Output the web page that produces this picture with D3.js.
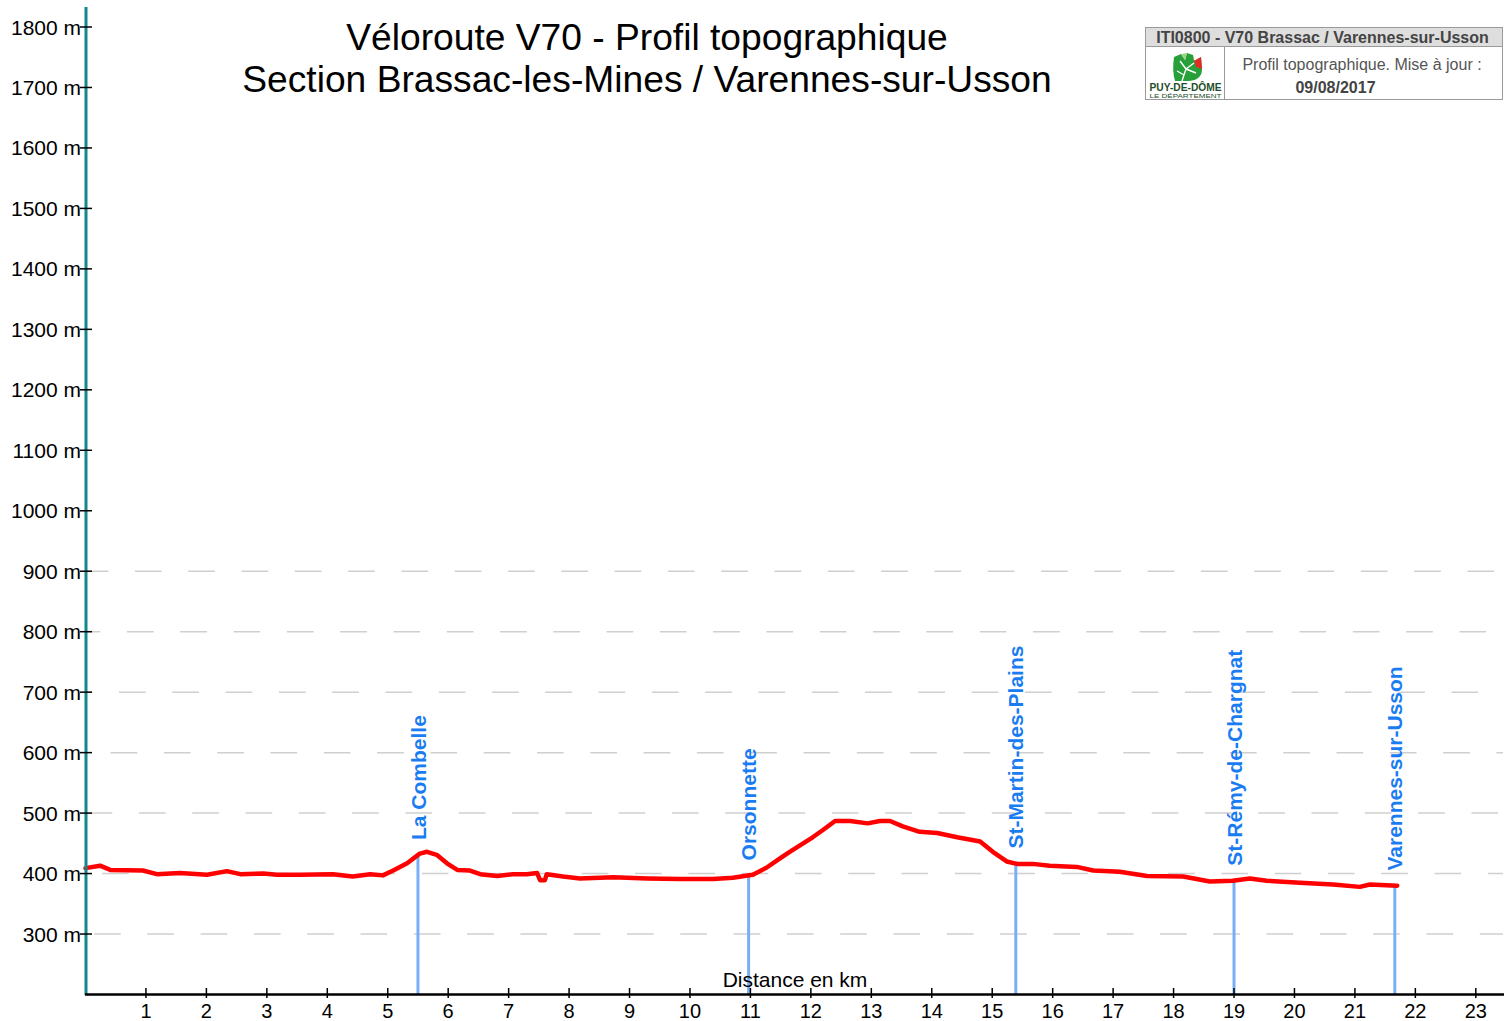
<!DOCTYPE html>
<html>
<head>
<meta charset="utf-8">
<script src="https://cdn.jsdelivr.net/npm/d3@7"></script>
<style>
  body { margin: 0; background: #fff; }
  svg { font-family: Arial, "Liberation Sans", sans-serif; }
</style>
</head>
<body>
<svg id="chart" width="1506" height="1021"></svg>
<script>
// profile: distance (km) / elevation (m)
const distKm = [0, 0.24, 0.41, 0.95, 1.18, 1.56, 2.01, 2.34, 2.56, 2.94, 3.17, 3.55, 4.09, 4.42, 4.71, 4.92,
  5.09, 5.32, 5.53, 5.65, 5.81, 5.98, 6.15, 6.36, 6.53, 6.81, 7.07, 7.30, 7.47, 7.52, 7.60, 7.63, 7.90,
  8.18, 8.73, 9.29, 9.84, 10.38, 10.71, 11.04, 11.27, 11.49, 11.65, 12.03, 12.20, 12.40, 12.65, 12.94,
  13.14, 13.31, 13.52, 13.80, 14.09, 14.42, 14.80, 15.01, 15.24, 15.41, 15.67, 15.95, 16.40, 16.67,
  17.11, 17.56, 18.16, 18.60, 18.98, 19.26, 19.54, 20.09, 20.64, 21.08, 21.25, 21.70];
const elevM = [409, 413, 406, 405, 399, 401, 398, 404, 399, 400, 398, 398, 399, 395, 399, 397,
  405, 417, 433, 436, 431, 417, 406, 405, 399, 396, 399, 399, 401, 389, 389, 399, 395,
  392, 394, 392, 391, 391, 393, 398, 410, 425, 436, 460, 472, 487, 487, 483,
  487, 487, 478, 469, 467, 460, 453, 436, 420, 416, 416, 413, 411, 405,
  403, 396, 395, 387, 388, 392, 388, 385, 382, 378, 382, 380];

// waypoints
const placeNames = ["La Combelle", "Orsonnette", "St-Martin-des-Plains", "St-Rémy-de-Chargnat", "Varennes-sur-Usson"];
const placeKm = [5.5, 10.97, 15.39, 19.0, 21.66];

const yTicks = [300, 400, 500, 600, 700, 800, 900, 1000, 1100, 1200, 1300, 1400, 1500, 1600, 1700, 1800];
const gridTicks = [300, 400, 500, 600, 700, 800, 900];
const xTicks = d3.range(1, 24);

const titleLines = ["Véloroute V70 - Profil topographique", "Section Brassac-les-Mines / Varennes-sur-Usson"];

const svg = d3.select("#chart");
const x = d3.scaleLinear().domain([0, 23.45]).range([85.5, 1503]);
const y = d3.scaleLinear().domain([200, 1800]).range([994.5, 27]);

// dashed grid (only the lower part), each row has its own dash phase
const gridPhase = {300: 40.7, 400: 48.7, 500: 32.3, 600: 4, 700: 12.3, 800: 20.3, 900: 28.3};
const period = 53.33;
svg.append("g").selectAll("line")
  .data(gridTicks)
  .join("line")
  .attr("x1", 86).attr("x2", 1503)
  .attr("y1", d => y(d)).attr("y2", d => y(d))
  .attr("stroke", "#cfcfcf")
  .attr("stroke-width", 1.5)
  .attr("stroke-dasharray", "26.7 26.6")
  .attr("stroke-dashoffset", d => ((86 - gridPhase[d]) % period + period) % period);

// title
svg.append("g").selectAll("text")
  .data(titleLines)
  .join("text")
  .attr("x", 647)
  .attr("y", (d, i) => 50 + i * 42)
  .attr("text-anchor", "middle")
  .attr("font-size", 37.2)
  .attr("fill", "#000")
  .text(d => d);

// waypoint drop lines
const profilePts = distKm.map((d, i) => [d, elevM[i]]);
const elevAt = km => {
  const i = d3.bisector(d => d[0]).left(profilePts, km);
  if (i <= 0) return profilePts[0][1];
  if (i >= profilePts.length) return profilePts[profilePts.length - 1][1];
  const a = profilePts[i - 1], b = profilePts[i];
  return a[1] + (b[1] - a[1]) * (km - a[0]) / (b[0] - a[0]);
};

svg.append("g").selectAll("line")
  .data(placeKm)
  .join("line")
  .attr("x1", d => x(d)).attr("x2", d => x(d))
  .attr("y1", d => y(elevAt(d))).attr("y2", y(200))
  .attr("stroke", "#78b0f7")
  .attr("stroke-width", 3);

// profile
const line = d3.line().x(d => x(d[0])).y(d => y(d[1]));
svg.append("path")
  .datum(profilePts)
  .attr("d", line)
  .attr("fill", "none")
  .attr("stroke", "#ff0000")
  .attr("stroke-width", 4.5)
  .attr("stroke-linejoin", "round")
  .attr("stroke-linecap", "round");

// waypoint labels
svg.append("g").selectAll("text")
  .data(placeNames)
  .join("text")
  .attr("transform", (d, i) => `translate(${x(placeKm[i])},${y(elevAt(placeKm[i])) - 15}) rotate(-90)`)
  .attr("dy", "0.36em")
  .attr("font-size", 21)
  .attr("font-weight", "bold")
  .attr("fill", "#1a7cf2")
  .text(d => d);

// y axis
const yAxis = svg.append("g");
yAxis.append("line")
  .attr("x1", 86).attr("x2", 86)
  .attr("y1", 7).attr("y2", 995)
  .attr("stroke", "#13888c").attr("stroke-width", 3);
yAxis.selectAll("line.tick")
  .data(yTicks)
  .join("line")
  .attr("class", "tick")
  .attr("x1", 80).attr("x2", 92)
  .attr("y1", d => y(d)).attr("y2", d => y(d))
  .attr("stroke", "#000").attr("stroke-width", 1.5);
yAxis.selectAll("text")
  .data(yTicks)
  .join("text")
  .attr("x", 81)
  .attr("y", d => y(d))
  .attr("dy", "0.36em")
  .attr("text-anchor", "end")
  .attr("font-size", 21)
  .text(d => d + " m");

// x axis
const xAxis = svg.append("g");
xAxis.append("line")
  .attr("x1", 85).attr("x2", 1504)
  .attr("y1", 994.5).attr("y2", 994.5)
  .attr("stroke", "#000").attr("stroke-width", 2.5);
xAxis.selectAll("line.tick")
  .data(xTicks)
  .join("line")
  .attr("class", "tick")
  .attr("x1", d => x(d)).attr("x2", d => x(d))
  .attr("y1", 988).attr("y2", 998)
  .attr("stroke", "#000").attr("stroke-width", 1.5);
xAxis.selectAll("text")
  .data(xTicks)
  .join("text")
  .attr("x", d => x(d))
  .attr("y", 1018)
  .attr("text-anchor", "middle")
  .attr("font-size", 20)
  .text(d => d);
xAxis.append("text")
  .attr("x", 795).attr("y", 987)
  .attr("text-anchor", "middle")
  .attr("font-size", 21)
  .text("Distance en km");

// info box top right
const box = svg.append("g");
box.append("rect")
  .attr("x", 1145.5).attr("y", 27.5).attr("width", 357).attr("height", 19)
  .attr("fill", "#dedede");
box.append("rect")
  .attr("x", 1145.5).attr("y", 27.5).attr("width", 357).attr("height", 72)
  .attr("fill", "none").attr("stroke", "#9a9a9a").attr("stroke-width", 1);
box.append("line")
  .attr("x1", 1145.5).attr("x2", 1502.5).attr("y1", 46.5).attr("y2", 46.5)
  .attr("stroke", "#9a9a9a");
box.append("line")
  .attr("x1", 1224.5).attr("x2", 1224.5).attr("y1", 46.5).attr("y2", 99.5)
  .attr("stroke", "#9a9a9a");
box.append("text")
  .attr("x", 1322.5).attr("y", 42.5)
  .attr("text-anchor", "middle")
  .attr("font-size", 16).attr("font-weight", "bold")
  .attr("fill", "#444")
  .text("ITI0800 - V70 Brassac / Varennes-sur-Usson");
box.append("text")
  .attr("x", 1362).attr("y", 70)
  .attr("text-anchor", "middle")
  .attr("font-size", 16)
  .attr("fill", "#555")
  .text("Profil topographique. Mise à jour :");
box.append("text")
  .attr("x", 1335.5).attr("y", 93)
  .attr("text-anchor", "middle")
  .attr("font-size", 16).attr("font-weight", "bold")
  .attr("fill", "#444")
  .text("09/08/2017");

// Puy-de-Dôme logo (simplified)
const logo = box.append("g").attr("transform", "translate(1172,51)");
logo.append("path")
  .attr("d", "M2,6 L9,3 L13,9 L15,2 L21,4 L22,10 L29,6 L30,18 Q30,29 17,30 L3,30 Q0,20 2,6 Z")
  .attr("fill", "#27a03a");
logo.append("path")
  .attr("d", "M21,4 L22,10 L29,6 L30,18 L24,16 Z")
  .attr("fill", "#e32a26");
logo.append("path")
  .attr("d", "M10,30 L14,18 L8,10 M14,18 L22,12 M14,18 L24,22 M12,24 L5,20")
  .attr("fill", "none").attr("stroke", "#fff").attr("stroke-width", 1.4);
logo.append("path")
  .attr("d", "M9,3 L13,9 L15,2 Z")
  .attr("fill", "#9fd18a");
box.append("text")
  .attr("x", 1185.5).attr("y", 91)
  .attr("text-anchor", "middle")
  .attr("font-size", 10).attr("font-weight", "bold")
  .attr("fill", "#1d4f2a")
  .attr("textLength", 72).attr("lengthAdjust", "spacingAndGlyphs")
  .text("PUY-DE-DÔME");
box.append("text")
  .attr("x", 1185.5).attr("y", 98)
  .attr("text-anchor", "middle")
  .attr("font-size", 6)
  .attr("fill", "#1d4f2a")
  .attr("textLength", 72).attr("lengthAdjust", "spacingAndGlyphs")
  .text("LE DÉPARTEMENT");
</script>
</body>
</html>
